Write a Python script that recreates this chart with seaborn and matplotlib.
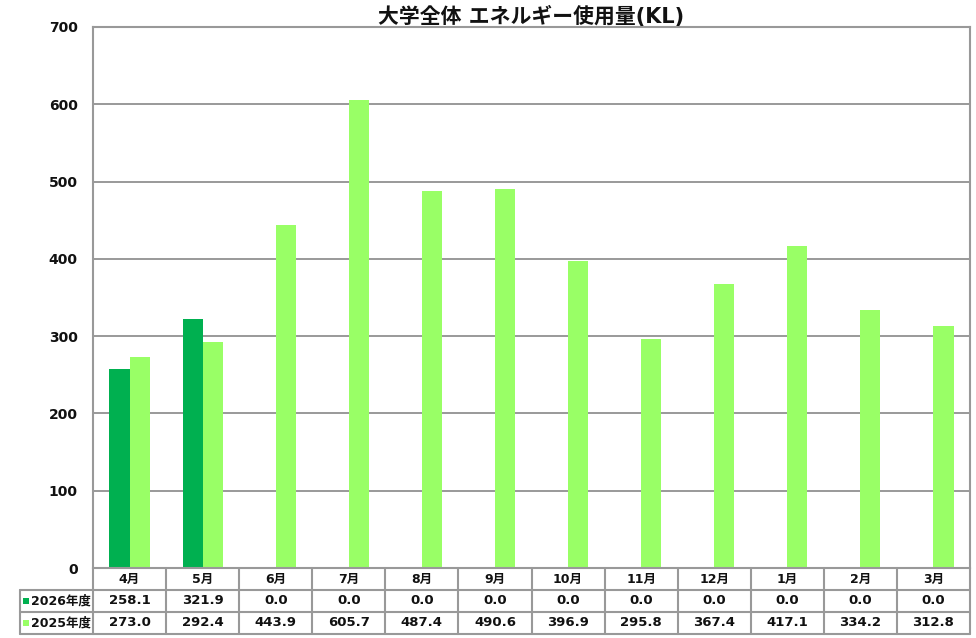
import matplotlib
matplotlib.use("Agg")
import matplotlib.pyplot as plt
import seaborn as sns
import pandas as pd
from matplotlib.transforms import blended_transform_factory
from matplotlib.patches import Rectangle

months = ["4月", "5月", "6月", "7月", "8月", "9月", "10月", "11月", "12月", "1月", "2月", "3月"]
series_names = ["2026年度", "2025年度"]
values_2026 = [258.1, 321.9, 0.0, 0.0, 0.0, 0.0, 0.0, 0.0, 0.0, 0.0, 0.0, 0.0]
values_2025 = [273.0, 292.4, 443.9, 605.7, 487.4, 490.6, 396.9, 295.8, 367.4, 417.1, 334.2, 312.8]
colors = ["#00B050", "#99FF66"]
yticks = [0, 100, 200, 300, 400, 500, 600, 700]
title = "大学全体 エネルギー使用量(KL)"

sns.set_theme(style="white")
FAM = ['DejaVu Sans', 'Noto Sans CJK JP']
plt.rcParams['font.family'] = FAM

df = pd.DataFrame({
    "month": months * 2,
    "series": [series_names[0]] * 12 + [series_names[1]] * 12,
    "value": values_2026 + values_2025,
})

W, H = 976, 638
fig = plt.figure(figsize=(W / 100, H / 100), dpi=100)
L, R, T, B = 93, 970, 27, 568
ax = fig.add_axes([L / W, 1 - B / H, (R - L) / W, (B - T) / H])

sns.barplot(data=df, x="month", y="value", hue="series", order=months,
            hue_order=series_names, palette=colors, width=0.55, saturation=1,
            edgecolor="none", linewidth=0, ax=ax, legend=False)

ax.set_ylim(0, 700)
ax.set_xlim(-0.5, 11.5)
ax.set_yticks(yticks)
ax.set_yticklabels([str(v) for v in yticks], fontsize=10, fontweight="bold", color="#111111")
ax.tick_params(axis="y", length=0, pad=11)
ax.set_xticks([])
ax.set_xlabel("")
ax.set_ylabel("")
ax.yaxis.grid(True, color="#888888", linewidth=1.2)
ax.set_axisbelow(True)
for side in ["left", "right", "top", "bottom"]:
    ax.spines[side].set_visible(True)
    ax.spines[side].set_color("#999999")
    ax.spines[side].set_linewidth(1.5)

ax.set_title(title, fontsize=15, fontweight="bold", pad=3, color="#111111")

# data table below the axes
tr = blended_transform_factory(ax.transData, ax.transAxes)
ah = B - T
unit_px = (R - L) / 12.0
row_h = 22.0 / ah
y_rows = [0, -row_h, -2 * row_h, -3 * row_h]
line_kw = dict(color="#999999", linewidth=1.5, clip_on=False, transform=tr)
for k in (1, 2, 3):
    ax.plot([-0.5, 11.5], [y_rows[k]] * 2, **line_kw)
for i in range(13):
    ax.plot([i - 0.5, i - 0.5], [y_rows[0], y_rows[3]], **line_kw)
lab_left = -0.5 - (L - 20) / unit_px
for k in (1, 2, 3):
    ax.plot([lab_left, -0.5], [y_rows[k]] * 2, **line_kw)
ax.plot([lab_left, lab_left], [y_rows[1], y_rows[3]], **line_kw)

txt_kw = dict(transform=tr, ha="center", va="center", fontsize=9.5,
              fontweight="bold", color="#111111", clip_on=False)
hdr_kw = dict(txt_kw, fontsize=9)
for i, m in enumerate(months):
    ax.text(i, (y_rows[0] + y_rows[1]) / 2, m, **hdr_kw)
    ax.text(i, (y_rows[1] + y_rows[2]) / 2, f"{values_2026[i]:.1f}", **txt_kw)
    ax.text(i, (y_rows[2] + y_rows[3]) / 2, f"{values_2025[i]:.1f}", **txt_kw)

sq = 6.0
for k, name in enumerate(series_names):
    yc = (y_rows[k + 1] + y_rows[k + 2]) / 2
    ax.add_patch(Rectangle((lab_left + 3 / unit_px, yc - (sq / 2) / ah),
                           sq / unit_px, sq / ah, transform=tr,
                           facecolor=colors[k], edgecolor="none", clip_on=False))
    ax.text(lab_left + 11 / unit_px, yc, name, transform=tr, ha="left", va="center",
            fontsize=9, fontweight="bold", color="#111111", clip_on=False)

fig.savefig("out.png", dpi=100, facecolor="white")
